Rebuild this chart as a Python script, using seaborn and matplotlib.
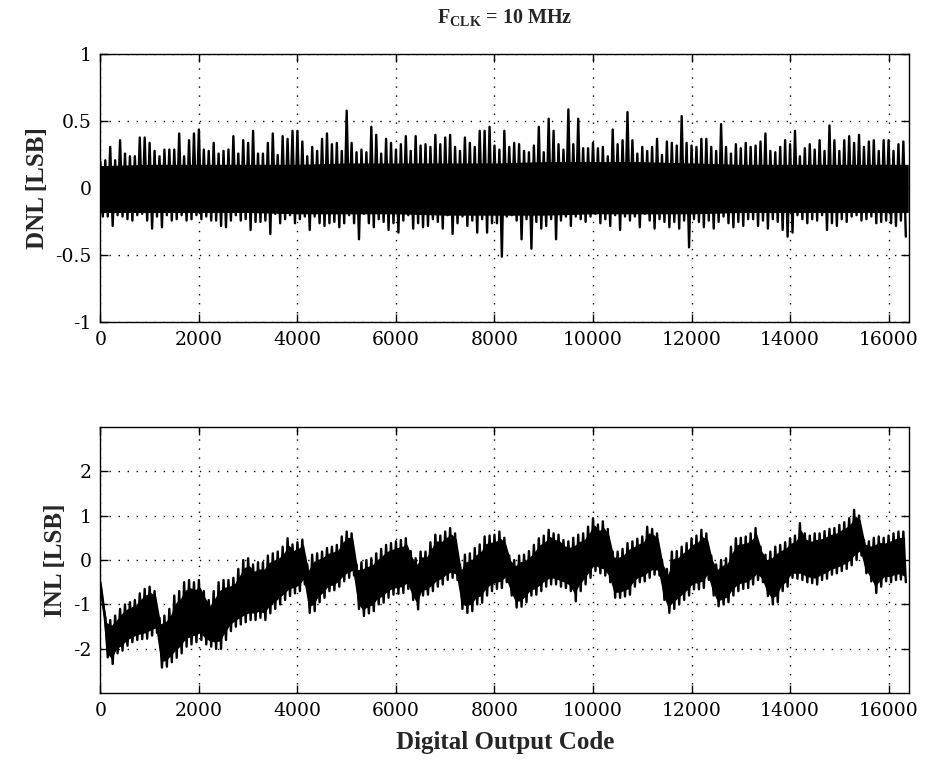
import numpy as np
import pandas as pd
import matplotlib
matplotlib.use("Agg")
import matplotlib.pyplot as plt
import seaborn as sns

# ---------------- data ----------------
step = 100  # code spacing of the read envelope samples
codes = np.arange(0, 16400, step)

# spike tips of the DNL trace (upper / lower) every 100 codes
dnl_upper = [
    0.20, 0.21, 0.31, 0.21, 0.36, 0.26, 0.24, 0.24, 0.38, 0.38, 0.34, 0.28, 0.24, 0.29, 0.29, 0.29,
    0.41, 0.24, 0.36, 0.41, 0.44, 0.29, 0.28, 0.34, 0.26, 0.28, 0.29, 0.39, 0.26, 0.36, 0.34, 0.43, 0.26,
    0.26, 0.34, 0.41, 0.25, 0.39, 0.37, 0.43, 0.43, 0.35, 0.24, 0.31, 0.28, 0.37, 0.41, 0.33, 0.34,
    0.28, 0.58, 0.34, 0.27, 0.29, 0.27, 0.46, 0.40, 0.26, 0.37, 0.34, 0.29, 0.33, 0.39, 0.28, 0.39, 0.32,
    0.33, 0.31, 0.40, 0.33, 0.38, 0.40, 0.31, 0.28, 0.38, 0.34, 0.31, 0.43, 0.43, 0.46, 0.32, 0.29, 0.43,
    0.31, 0.34, 0.33, 0.28, 0.27, 0.32, 0.46, 0.27, 0.52, 0.43, 0.33, 0.29, 0.59, 0.33, 0.52, 0.30, 0.30,
    0.34, 0.30, 0.31, 0.24, 0.44, 0.33, 0.36, 0.57, 0.36, 0.26, 0.31, 0.28, 0.31, 0.37, 0.25, 0.35, 0.34,
    0.32, 0.54, 0.34, 0.32, 0.31, 0.37, 0.37, 0.31, 0.28, 0.48, 0.31, 0.26, 0.33, 0.30, 0.34, 0.31,
    0.32, 0.35, 0.41, 0.28, 0.27, 0.31, 0.36, 0.33, 0.43, 0.24, 0.30, 0.33, 0.29, 0.36, 0.28, 0.47,
    0.36, 0.28, 0.36, 0.39, 0.34, 0.40, 0.31, 0.35, 0.36, 0.28, 0.36, 0.36, 0.28, 0.33, 0.35,
]
dnl_lower = [
    -0.21, -0.21, -0.28, -0.20, -0.21, -0.23, -0.24, -0.20, -0.19, -0.24, -0.30, -0.21, -0.29, -0.20, -0.24, -0.23,
    -0.20, -0.24, -0.23, -0.20, -0.23, -0.21, -0.24, -0.24, -0.28, -0.29, -0.24, -0.20, -0.24, -0.23, -0.31, -0.25, -0.25,
    -0.24, -0.34, -0.19, -0.26, -0.23, -0.20, -0.26, -0.23, -0.21, -0.31, -0.21, -0.26, -0.28, -0.26, -0.25, -0.29,
    -0.26, -0.20, -0.26, -0.38, -0.19, -0.26, -0.29, -0.23, -0.25, -0.31, -0.26, -0.33, -0.24, -0.20, -0.30, -0.26, -0.29,
    -0.28, -0.23, -0.25, -0.30, -0.20, -0.34, -0.26, -0.21, -0.28, -0.24, -0.33, -0.23, -0.33, -0.26, -0.26, -0.51, -0.21,
    -0.20, -0.24, -0.38, -0.23, -0.45, -0.25, -0.30, -0.28, -0.23, -0.38, -0.24, -0.21, -0.28, -0.21, -0.23, -0.25, -0.21,
    -0.19, -0.26, -0.23, -0.28, -0.20, -0.31, -0.21, -0.24, -0.21, -0.29, -0.19, -0.24, -0.30, -0.23, -0.25, -0.29, -0.25,
    -0.30, -0.24, -0.44, -0.23, -0.25, -0.29, -0.24, -0.30, -0.25, -0.21, -0.26, -0.29, -0.25, -0.28, -0.23, -0.23,
    -0.28, -0.24, -0.30, -0.23, -0.25, -0.31, -0.36, -0.33, -0.20, -0.23, -0.26, -0.23, -0.24, -0.20, -0.31, -0.26,
    -0.28, -0.23, -0.25, -0.21, -0.20, -0.24, -0.23, -0.21, -0.26, -0.25, -0.24, -0.26, -0.28, -0.24, -0.36,
]

# edges of the solid DNL core, read every 1000 codes (last at the right edge)
core_codes = [0, 1000, 2000, 3000, 4000, 5000, 6000, 7000, 8000, 9000,
              10000, 11000, 12000, 13000, 14000, 15000, 16000, 16400]
dnl_core_upper = [0.17, 0.18, 0.18, 0.18, 0.18, 0.19, 0.19, 0.19, 0.19,
                  0.20, 0.20, 0.20, 0.19, 0.18, 0.18, 0.18, 0.18, 0.18]
dnl_core_lower = [-0.18, -0.18, -0.18, -0.18, -0.19, -0.19, -0.19, -0.20, -0.20,
                  -0.20, -0.19, -0.19, -0.19, -0.18, -0.18, -0.18, -0.18, -0.18]

# spike tips of the INL trace (upper / lower) every 100 codes
inl_upper = [
    -0.5, -1.3, -1.35, -1.25, -1.1, -1.0, -0.95, -0.9, -0.75, -0.65, -0.6, -0.7,
    -1.3, -1.25, -1.1, -0.8, -0.7, -0.5, -0.45, -0.5, -0.45, -0.7, -0.9, -0.7, -0.5, -0.45, -0.45,
    -0.4, -0.2, 0.0, 0.04, -0.1, -0.05, -0.05, 0.1, 0.15, 0.19, 0.3, 0.49, 0.35, 0.4, 0.46,
    -0.1, 0.12, 0.15, 0.19, 0.27, 0.3, 0.34, 0.53, 0.64, 0.6,
    -0.1, -0.05, 0.0, 0.04, 0.15, 0.25, 0.34, 0.38, 0.42, 0.45, 0.49,
    0.2, 0.04, 0.19, 0.19, 0.4, 0.57, 0.55, 0.64, 0.72, 0.6,
    -0.1, 0.12, 0.15, 0.27, 0.35, 0.53, 0.55, 0.57, 0.64, 0.5,
    0.1, 0.0, 0.1, 0.12, 0.2, 0.34, 0.49, 0.55, 0.68, 0.6, 0.57, 0.45, 0.42, 0.5, 0.57, 0.6, 0.75,
    0.94, 0.8, 0.87, 0.7,
    0.19, 0.19, 0.25, 0.38, 0.42, 0.48, 0.53, 0.75, 0.7, 0.6,
    0.0, -0.2, 0.19, 0.2, 0.3, 0.38, 0.49, 0.55, 0.68, 0.6,
    0.1, -0.1, 0.0, 0.04, 0.3, 0.49, 0.5, 0.53, 0.6, 0.72,
    0.3, 0.12, 0.19, 0.3, 0.34, 0.4, 0.49, 0.55, 0.83, 0.6,
    0.55, 0.6, 0.6, 0.65, 0.7, 0.72, 0.79, 0.85, 0.94, 1.13, 1.0,
    0.45, 0.42, 0.5, 0.53, 0.5, 0.55, 0.6, 0.64, 0.64,
]
inl_lower = [
    -1.0, -2.19, -2.34, -2.1, -2.04, -1.93, -1.85, -1.8, -1.78, -1.77, -1.7, -1.64,
    -2.42, -2.4, -2.3, -2.2, -2.1, -1.95, -1.9, -1.85, -1.8, -1.9, -1.95, -2.0, -2.0, -1.8, -1.6,
    -1.5, -1.45, -1.4, -1.35, -1.35, -1.3, -1.35, -1.2, -1.1, -1.0, -0.9, -0.81, -0.75, -0.7, -0.55,
    -1.19, -1.15, -0.95, -0.85, -0.7, -0.68, -0.6, -0.48, -0.4, -0.35,
    -1.1, -1.26, -1.2, -1.15, -1.0, -0.96, -0.85, -0.78, -0.76, -0.74, -0.65,
    -0.9, -1.11, -0.8, -0.78, -0.7, -0.6, -0.55, -0.45, -0.4, -0.45,
    -1.1, -1.19, -1.15, -1.0, -0.96, -0.8, -0.7, -0.65, -0.63, -0.5,
    -0.8, -1.07, -1.05, -0.95, -0.8, -0.78, -0.7, -0.6, -0.55, -0.55, -0.6, -0.63, -0.7, -0.93, -0.7,
    -0.55, -0.4, -0.25, -0.3, -0.35, -0.5,
    -0.85, -0.85, -0.82, -0.78, -0.6, -0.5, -0.48, -0.4, -0.33, -0.35,
    -0.9, -1.19, -1.1, -1.0, -0.9, -0.8, -0.66, -0.66, -0.63, -0.45,
    -0.8, -1.04, -1.0, -0.95, -0.8, -0.7, -0.65, -0.63, -0.55, -0.45,
    -0.5, -0.81, -1.0, -0.95, -0.7, -0.6, -0.4, -0.42, -0.45, -0.5,
    -0.52, -0.55, -0.45, -0.42, -0.33, -0.3, -0.25, -0.2, -0.12, 0.0, 0.1,
    -0.3, -0.48, -0.74, -0.6, -0.48, -0.5, -0.45, -0.44, -0.5,
]

x_ticks = [0, 2000, 4000, 6000, 8000, 10000, 12000, 14000, 16000]
dnl_ticks = [-1, -0.5, 0, 0.5, 1]
dnl_ticklabels = ["-1", "-0.5", "0", "0.5", "1"]
inl_ticks = [-2, -1, 0, 1, 2]
inl_ticklabels = ["-2", "-1", "0", "1", "2"]


def trace(upper, lower):
    """Alternate each code's upper and lower excursion into one drawn trace."""
    x = np.column_stack([codes, codes + step / 2]).ravel()
    y = np.column_stack([upper, lower]).ravel()
    return pd.DataFrame({"code": x, "value": y})


dnl_df = trace(dnl_upper, dnl_lower)
inl_df = trace(inl_upper, inl_lower)

# solid part of the INL band: the inner part of each up/down stroke
inl_up_arr = np.asarray(inl_upper)
inl_lo_arr = np.asarray(inl_lower)
inner = 0.12
inl_core_upper = inl_up_arr - inner * (inl_up_arr - inl_lo_arr)
inl_core_lower = inl_lo_arr + inner * (inl_up_arr - inl_lo_arr)

# ---------------- styling ----------------
sns.set_style("ticks")
plt.rcParams["font.family"] = ["DejaVu Serif"]
plt.rcParams["mathtext.fontset"] = "custom"
plt.rcParams["mathtext.rm"] = "Liberation Serif"
plt.rcParams["mathtext.bf"] = "Liberation Serif:bold"

fig = plt.figure(figsize=(9.25, 7.64), dpi=100)
ax1 = fig.add_axes([0.1085, 0.5781, 0.8745, 0.3506])
ax2 = fig.add_axes([0.1085, 0.0925, 0.8745, 0.3490])

label_font = dict(family="Liberation Serif", weight="bold", size=18)
grid_style = dict(color="black", linestyle=(0, (1, 5.5)), linewidth=1.0)

ax1.fill_between(core_codes, dnl_core_lower, dnl_core_upper, color="black", lw=0)
ax2.fill_between(codes + step / 4, inl_core_lower, inl_core_upper, color="black", lw=0)

for ax, df, ticks, labels, ylim, ylabel in [
    (ax1, dnl_df, dnl_ticks, dnl_ticklabels, (-1, 1), "DNL [LSB]"),
    (ax2, inl_df, inl_ticks, inl_ticklabels, (-3, 3), "INL [LSB]"),
]:
    sns.lineplot(data=df, x="code", y="value", ax=ax, color="black",
                 linewidth=1.7, sort=False, estimator=None, legend=False)
    ax.set_xlim(0, 16420)
    ax.set_ylim(*ylim)
    ax.set_xticks(x_ticks)
    ax.set_xticklabels([str(t) for t in x_ticks])
    ax.set_yticks(ticks)
    ax.set_yticklabels(labels)
    ax.set_axisbelow(True)
    ax.grid(True, **grid_style)
    ax.tick_params(direction="in", length=6, width=1, top=True, right=True,
                   labelsize=13.5, pad=6.5, colors="black")
    for s in ax.spines.values():
        s.set_visible(True)
        s.set_color("black")
        s.set_linewidth(1.0)
        s.set_zorder(5)
    ax.set_ylabel(ylabel, fontdict=label_font)
    ax.set_xlabel("")

ax2.set_xlabel("Digital Output Code", fontdict=label_font, labelpad=8)
ax1.set_title(r"F$_{\mathbf{CLK}}$ = 10 MHz", family="Liberation Serif",
              weight="bold", size=14.5, pad=22)

fig.savefig("out.png", dpi=100, facecolor="white")
